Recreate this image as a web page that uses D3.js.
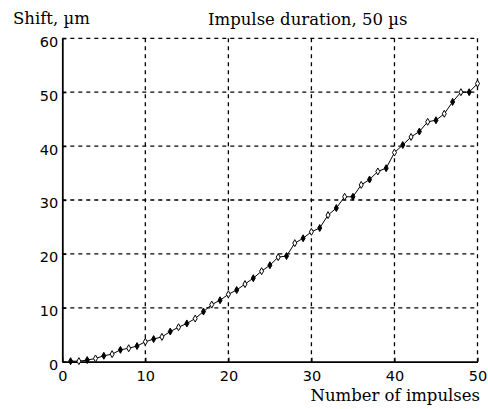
<!DOCTYPE html>
<html>
<head>
<meta charset="utf-8">
<script src="https://cdn.jsdelivr.net/npm/d3@7"></script>
<style>
  body { margin: 0; background: #fff; }
  svg { display: block; }
  .tick text { font-family: "DejaVu Sans", sans-serif; font-size: 14.5px; fill: #000; }
  .lbl { font-family: "DejaVu Serif", serif; font-size: 16.5px; fill: #000; }
</style>
</head>
<body>
<svg id="chart" width="488" height="409"></svg>
<script>
const impulses = d3.range(1, 51);
const shift = [
  0.1, 0.1, 0.3, 0.6, 1.1, 1.4, 2.2, 2.5, 2.9, 3.7,
  4.2, 4.6, 5.6, 6.4, 7.1, 8.0, 9.3, 10.6, 11.4, 12.5,
  13.3, 14.4, 15.5, 16.8, 17.9, 19.4, 19.6, 22.0, 22.9, 24.1,
  24.8, 27.2, 28.5, 30.6, 30.6, 32.8, 33.8, 35.3, 35.9, 38.8,
  40.2, 41.7, 42.7, 44.5, 44.8, 46.0, 48.2, 50.0, 50.0, 51.6
];
const xTicks = [0, 10, 20, 30, 40, 50];
const yTicks = [0, 10, 20, 30, 40, 50, 60];

const svg = d3.select('#chart');
const x = d3.scaleLinear().domain([0, 50]).range([62.3, 477.5]);
const y = d3.scaleLinear().domain([0, 60]).range([361.7, 38.3]);

// dashed grid
const grid = svg.append('g')
    .attr('stroke', '#000')
    .attr('stroke-width', 1.3)
    .attr('stroke-dasharray', '4,4');
grid.selectAll('line.h')
  .data(yTicks.filter(d => d > 0))
  .join('line')
    .attr('class', 'h')
    .attr('x1', x(0)).attr('x2', x(50))
    .attr('y1', d => y(d)).attr('y2', d => y(d));
grid.selectAll('line.v')
  .data(xTicks.filter(d => d > 0))
  .join('line')
    .attr('class', 'v')
    .attr('y1', y(60)).attr('y2', y(0))
    .attr('x1', d => x(d)).attr('x2', d => x(d));

// axes
const xAxis = svg.append('g')
    .attr('transform', `translate(0,${y(0)})`)
    .call(d3.axisBottom(x).tickValues(xTicks).tickSize(-4).tickPadding(9).tickSizeOuter(0));
const yAxis = svg.append('g')
    .attr('transform', `translate(${x(0)},0)`)
    .call(d3.axisLeft(y).tickValues(yTicks).tickSize(-4).tickPadding(4).tickSizeOuter(0));
[xAxis, yAxis].forEach(a => {
  a.select('.domain').attr('stroke', '#000').attr('stroke-width', 1.8);
  a.selectAll('.tick line').attr('stroke', '#000').attr('stroke-width', 1.3);
});
yAxis.selectAll('.tick text').attr('dy', '0.55em');

// data line
const pts = impulses.map((d, i) => [d, shift[i]]);
svg.append('path')
    .datum(pts)
    .attr('fill', 'none')
    .attr('stroke', '#000')
    .attr('stroke-width', 1)
    .attr('d', d3.line().x(d => x(d[0])).y(d => y(d[1])));

svg.append('g')
  .selectAll('path')
  .data(pts)
  .join('path')
    .attr('transform', d => `translate(${x(d[0])},${y(d[1])})`)
    .attr('d', d3.symbol(d3.symbolDiamond, 14))
    .attr('fill', (d, i) => i % 2 ? '#fff' : '#000')
    .attr('stroke', '#000')
    .attr('stroke-width', 1);

// labels
svg.append('text').attr('class', 'lbl').attr('x', 13).attr('y', 24).text('Shift, µm');
svg.append('text').attr('class', 'lbl').attr('x', 208).attr('y', 25).text('Impulse duration, 50 µs');
svg.append('text').attr('class', 'lbl').attr('x', 480).attr('y', 401).attr('text-anchor', 'end').text('Number of impulses');
</script>
</body>
</html>
